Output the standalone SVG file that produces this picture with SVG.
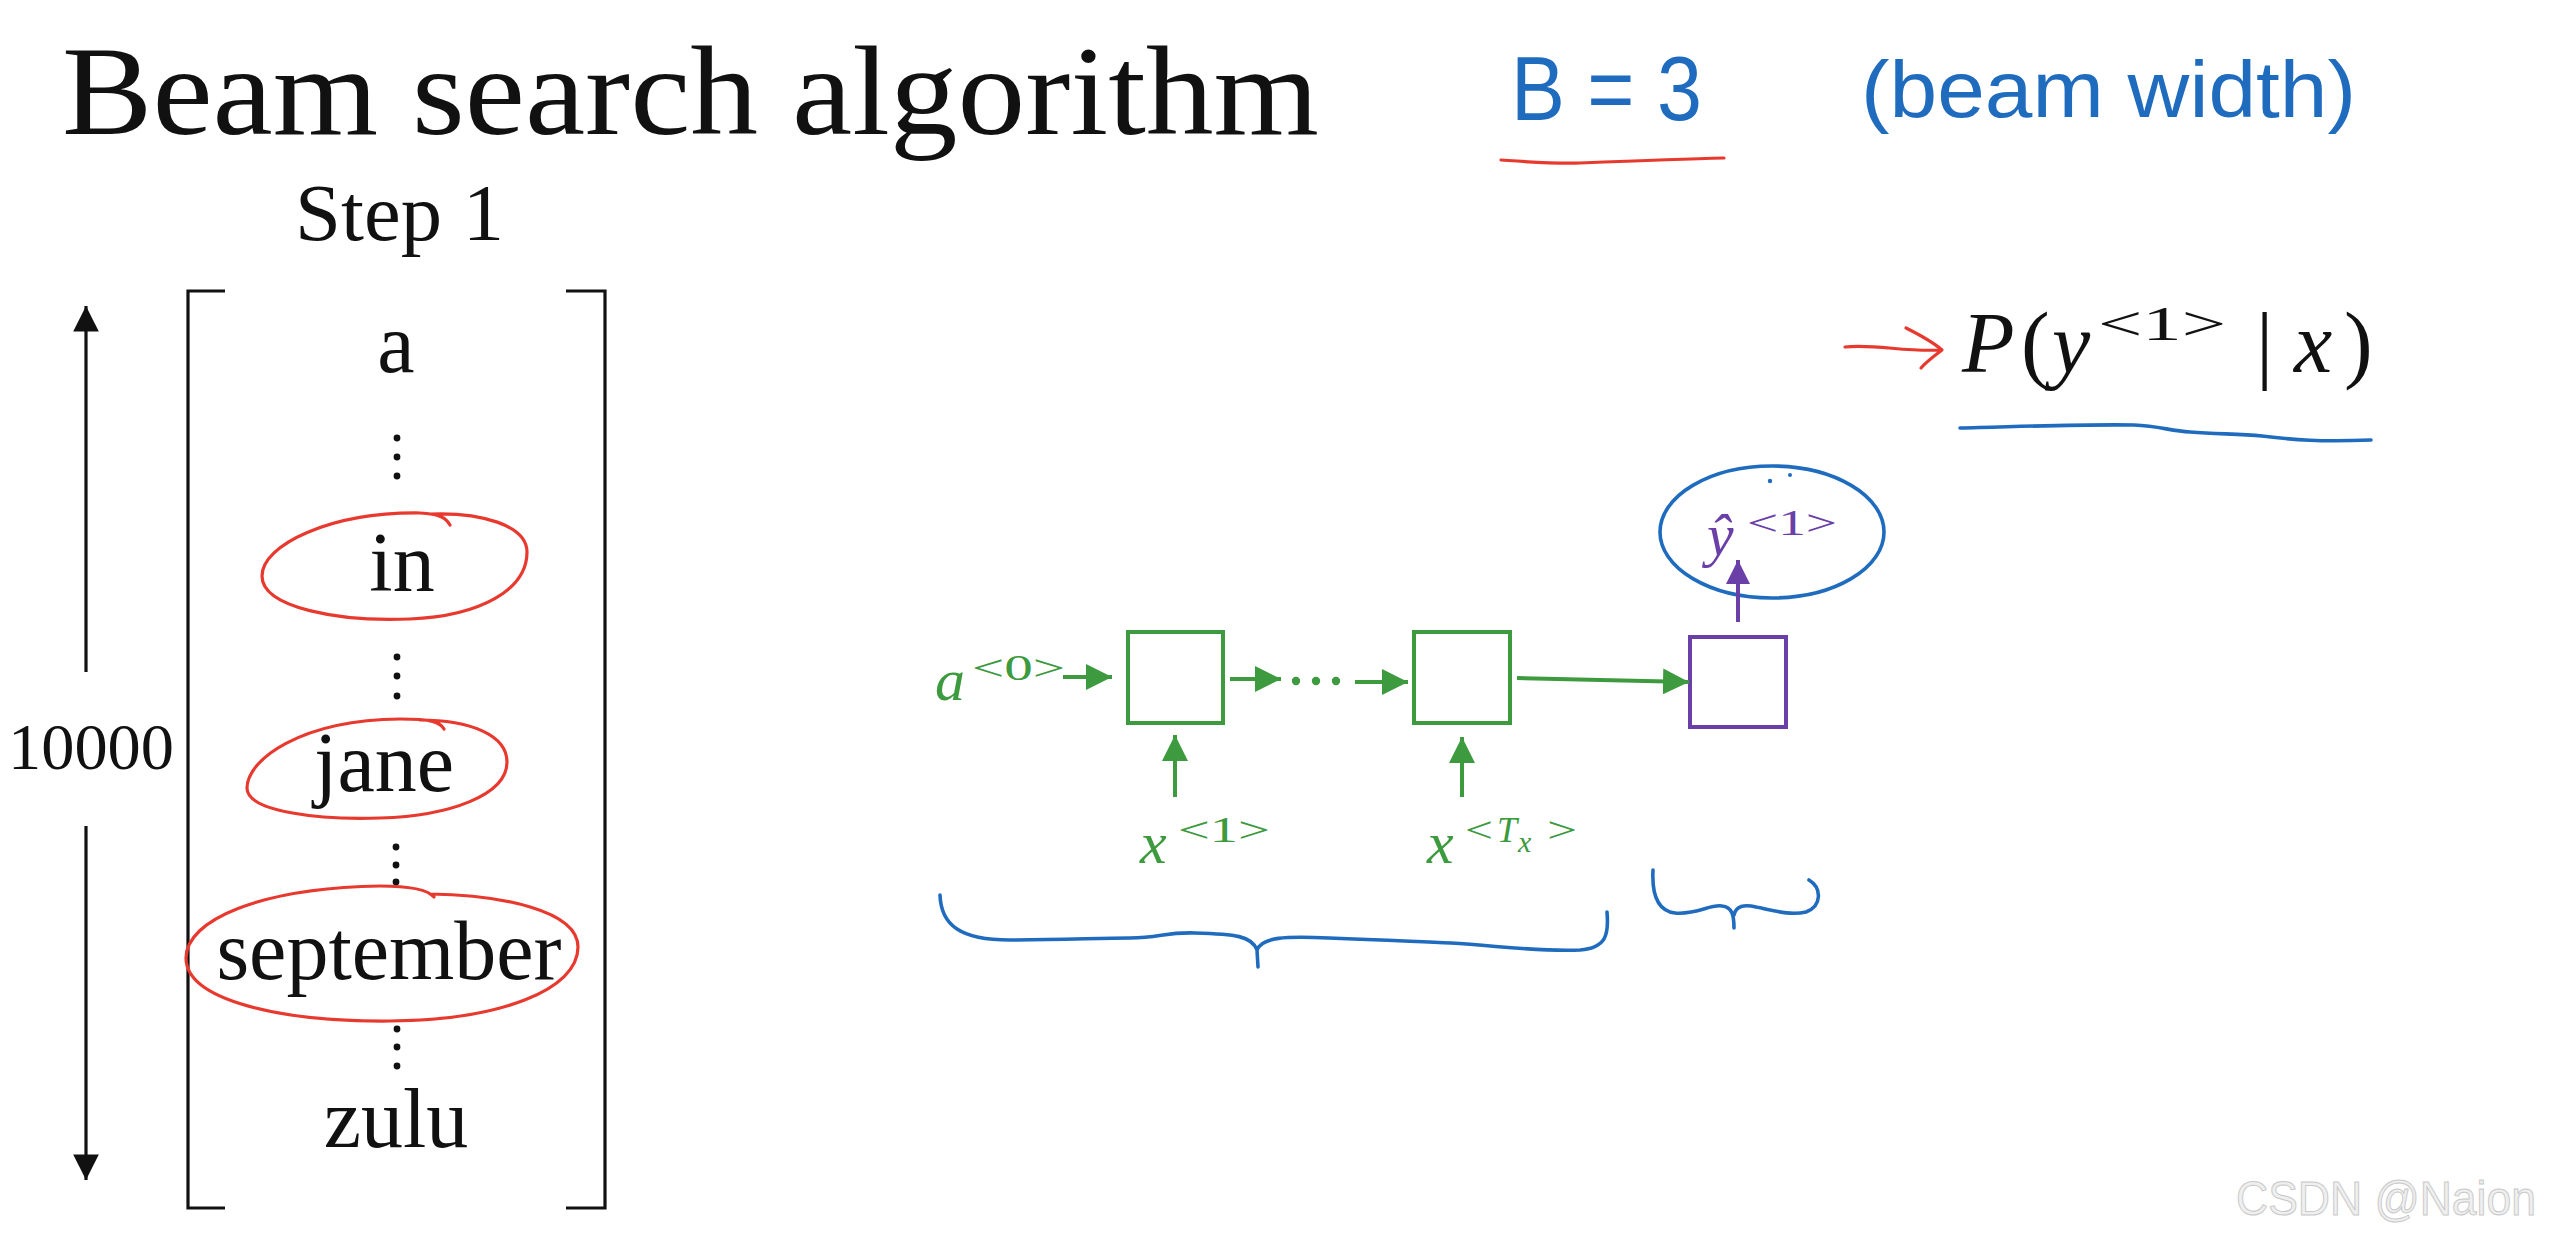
<svg xmlns="http://www.w3.org/2000/svg" width="2560" height="1239" viewBox="0 0 2560 1239">
<defs>
<style>
.serif{font-family:"Liberation Serif","Times New Roman",serif;fill:#111}
.math{font-family:"Liberation Serif","DejaVu Serif",serif}
.it{font-style:italic}
.hand{font-family:"Liberation Sans","DejaVu Sans",sans-serif;fill:#1f6cbf}
.red{fill:none;stroke:#e8392f;stroke-width:3.2;stroke-linecap:round;stroke-linejoin:round}
.blue{fill:none;stroke:#1f6cbf;stroke-width:3.6;stroke-linecap:round;stroke-linejoin:round}
.g{stroke:#3d9a3f;stroke-width:4;fill:none}
.gt{fill:#3d9a3f}
.p{stroke:#6a3fa8;stroke-width:4;fill:none}
.pt{fill:#6a3fa8}
.blk{stroke:#111;stroke-width:3.2;fill:none}
.dot{fill:#111}
</style>
<marker id="ag" viewBox="0 0 10 10" refX="10" refY="5" markerWidth="6.5" markerHeight="6.5" markerUnits="strokeWidth" orient="auto"><path d="M0,0 L10,5 L0,10 Z" fill="#3d9a3f"/></marker>
<marker id="ap" viewBox="0 0 10 10" refX="10" refY="5" markerWidth="6" markerHeight="6" markerUnits="strokeWidth" orient="auto"><path d="M0,0 L10,5 L0,10 Z" fill="#6a3fa8"/></marker>
<marker id="ak" viewBox="0 0 10 10" refX="10" refY="5" markerWidth="8" markerHeight="8" markerUnits="strokeWidth" orient="auto"><path d="M0,0 L10,5 L0,10 Z" fill="#111"/></marker>
</defs>
<rect width="2560" height="1239" fill="#fff"/>

<g id="title">
<text class="serif" x="62" y="134" font-size="128" textLength="1257" lengthAdjust="spacingAndGlyphs">Beam search algorithm</text>
<text class="serif" x="295" y="240" font-size="80" textLength="209" lengthAdjust="spacingAndGlyphs">Step 1</text>
</g>

<g id="beam-width">
<text class="hand" x="1511" y="120" font-size="90" textLength="191" lengthAdjust="spacingAndGlyphs">B = 3</text>
<path class="red" d="M1501,160 C1530,162 1555,164 1580,163 C1630,161 1680,159 1724,158"/>
<text class="hand" x="1861" y="117" font-size="80" textLength="495" lengthAdjust="spacingAndGlyphs">(beam width)</text>
</g>

<g id="vocab">
<path class="blk" d="M225,291 L188,291 L188,1208 L225,1208"/>
<path class="blk" d="M566,291 L605,291 L605,1208 L566,1208"/>
<line class="blk" x1="86" y1="672" x2="86" y2="306" marker-end="url(#ak)"/>
<line class="blk" x1="86" y1="826" x2="86" y2="1180" marker-end="url(#ak)"/>
<text class="serif" x="8" y="769" font-size="66" textLength="166" lengthAdjust="spacingAndGlyphs">10000</text>
<text class="serif" x="396" y="372" font-size="84" text-anchor="middle">a</text>
<text class="serif" x="402" y="591" font-size="84" text-anchor="middle">in</text>
<text class="serif" x="384" y="791" font-size="84" text-anchor="middle">jane</text>
<text class="serif" x="389" y="979" font-size="84" text-anchor="middle">september</text>
<text class="serif" x="396" y="1147" font-size="84" text-anchor="middle">zulu</text>
<g class="dot">
<circle cx="397" cy="438" r="3.4"/><circle cx="397" cy="457" r="3.4"/><circle cx="397" cy="476" r="3.4"/>
<circle cx="397" cy="657" r="3.4"/><circle cx="397" cy="676" r="3.4"/><circle cx="397" cy="696" r="3.4"/>
<circle cx="396" cy="847" r="3.4"/><circle cx="396" cy="865" r="3.4"/><circle cx="396" cy="882" r="3.4"/>
<circle cx="397" cy="1029" r="3.4"/><circle cx="397" cy="1047" r="3.4"/><circle cx="397" cy="1066" r="3.4"/>
</g>
</g>

<g id="selections">
<path class="red" d="M450,525 C446,518 440,514 420,513 C330,512 262,545 262,576 C262,608 340,622 410,619 C480,616 527,590 527,552 C527,525 480,512 430,514"/>
<path class="red" d="M444,729 C440,722 432,719 400,719 C300,720 247,760 247,788 C247,812 320,820 380,818 C450,816 507,795 507,762 C507,735 470,720 420,720"/>
<path class="red" d="M434,897 C428,890 410,886 380,886 C260,888 186,920 186,958 C186,1000 280,1022 390,1021 C500,1020 578,990 578,947 C578,910 500,895 430,894"/>
</g>

<g id="a0-label">
<text class="math it gt" x="935" y="700" font-size="60">a</text>
<text class="math gt" x="972" y="680" font-size="36" textLength="93" lengthAdjust="spacingAndGlyphs">&lt;0&gt;</text>
</g>
<g id="cell1"><rect class="g" x="1128" y="632" width="95" height="91"/></g>
<g id="cell2"><rect class="g" x="1414" y="632" width="96" height="91"/></g>
<g id="cell3"><rect class="p" x="1690" y="637" width="96" height="90"/></g>
<g id="ellipsis-dots" class="gt">
<circle cx="1296" cy="681" r="4.2"/><circle cx="1316" cy="681" r="4.2"/><circle cx="1336" cy="681" r="4.2"/>
</g>
<g id="x1-label">
<text class="math it gt" x="1140" y="863" font-size="60">x</text>
<text class="math gt" x="1178" y="842" font-size="36" textLength="92" lengthAdjust="spacingAndGlyphs">&lt;1&gt;</text>
</g>
<g id="xTx-label">
<text class="math it gt" x="1427" y="863" font-size="60">x</text>
<text class="math gt" x="1465" y="842" font-size="36" textLength="28" lengthAdjust="spacingAndGlyphs">&lt;</text>
<text class="math it gt" x="1497" y="842" font-size="36">T</text>
<text class="math it gt" x="1518" y="852" font-size="30">x</text>
<text class="math gt" x="1547" y="842" font-size="36" textLength="30" lengthAdjust="spacingAndGlyphs">&gt;</text>
</g>
<g id="yhat">
<ellipse class="blue" cx="1772" cy="532" rx="112" ry="66"/>
<circle cx="1770" cy="481" r="2.2" fill="#1f6cbf"/><circle cx="1790" cy="475" r="2" fill="#1f6cbf"/>
<text class="math it pt" x="1707" y="555" font-size="60">ŷ</text>
<text class="math pt" x="1747" y="535" font-size="36" textLength="90" lengthAdjust="spacingAndGlyphs">&lt;1&gt;</text>
</g>

<g id="prob">
<path class="red" d="M1845,347 C1875,344 1905,352 1940,350 M1906,328 C1922,336 1934,343 1942,350 C1934,356 1926,362 1921,368"/>
<text class="math it" x="1962" y="372" font-size="86" fill="#111">P</text>
<text class="math" x="2021" y="372" font-size="86" fill="#111">(</text>
<text class="math it" x="2052" y="372" font-size="86" fill="#111">y</text>
<text class="math" x="2098" y="340" font-size="48" fill="#111" textLength="128" lengthAdjust="spacingAndGlyphs">&lt;1&gt;</text>
<text class="math" x="2256" y="372" font-size="86" fill="#111">|</text>
<text class="math it" x="2294" y="372" font-size="86" fill="#111">x</text>
<text class="math" x="2344" y="372" font-size="86" fill="#111">)</text>
<path class="blue" d="M1960,428 C2010,427 2080,424 2134,425 C2160,426 2170,431 2190,432 C2220,434 2240,434 2262,436 C2295,440 2320,442 2371,440"/>
</g>

<g id="connectors">
<line class="g" x1="1063" y1="677" x2="1112" y2="677" marker-end="url(#ag)"/>
<line class="g" x1="1230" y1="679" x2="1281" y2="679" marker-end="url(#ag)"/>
<line class="g" x1="1355" y1="682" x2="1408" y2="682" marker-end="url(#ag)"/>
<line class="g" x1="1517" y1="678" x2="1689" y2="682" marker-end="url(#ag)"/>
<line class="g" x1="1175" y1="797" x2="1175" y2="735" marker-end="url(#ag)"/>
<line class="g" x1="1462" y1="797" x2="1462" y2="737" marker-end="url(#ag)"/>
<line class="p" x1="1738" y1="622" x2="1738" y2="560" marker-end="url(#ap)"/>
</g>

<g id="braces">
<path class="blue" d="M940,895 C941,925 960,940 1010,940 C1060,940 1100,938 1130,938 C1160,938 1165,932 1195,933 C1235,934 1252,936 1257,950 L1258,967 M1257,950 C1262,937 1285,936 1329,938 C1390,940 1420,942 1451,943 C1500,946 1540,952 1580,950 C1606,948 1609,935 1607,912"/>
<path class="blue" d="M1653,870 C1652,890 1655,911 1675,913 C1697,915 1710,904 1722,906 C1732,907 1734,915 1734,928 M1734,915 C1736,906 1744,904 1756,907 C1772,910 1790,916 1806,912 C1822,906 1822,888 1809,880"/>
</g>

<g id="watermark">
<text x="2236" y="1215" font-family="Liberation Sans, Arial, sans-serif" font-size="48" fill="#efefef" stroke="#c9c9c9" stroke-width="1" textLength="300" lengthAdjust="spacingAndGlyphs">CSDN @Naion</text>
</g>
</svg>
